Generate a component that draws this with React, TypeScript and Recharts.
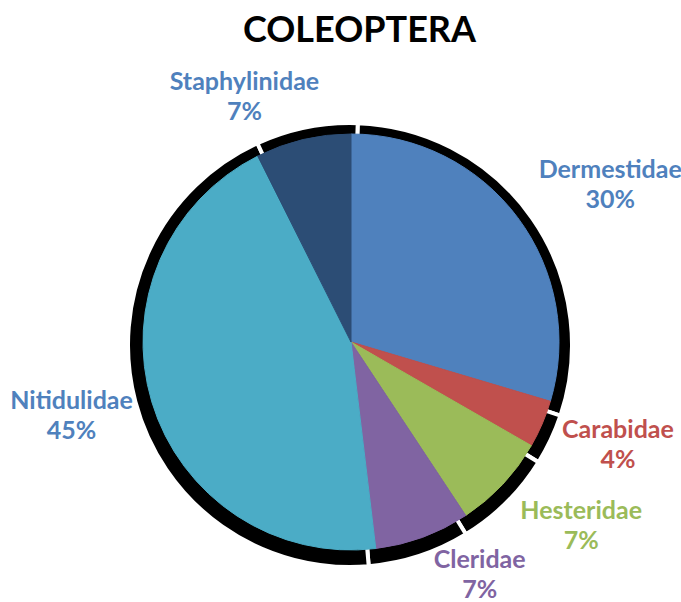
import { PieChart, Pie, Cell } from 'recharts';

const families = ['Dermestidae', 'Carabidae', 'Hesteridae', 'Cleridae', 'Nitidulidae', 'Staphylinidae'];
const shares = [29.6, 3.7, 7.4, 7.4, 44.5, 7.4];
const shareLabels = ['30%', '4%', '7%', '7%', '45%', '7%'];

const sliceColors = ['#4F81BD', '#C0504D', '#9BBB59', '#8064A2', '#4BACC6', '#2C4D75'];
const labelColors = ['#4F81BD', '#C0504D', '#9BBB59', '#8064A2', '#4F81BD', '#4F81BD'];
// label layout tweaks: angular nudge (deg) and distance of the anchor from centre
const labelNudge = [1.9, -0.3, -1.6, -7, 0, -6.6];
const labelDist = [250, 236, 248, 234, 226, 235];

const chartData = families.map((name, i) => ({ name, value: shares[i] }));

const RADIAN = Math.PI / 180;
const FONT = 'Lato, "Open Sans", sans-serif';
const LABEL_SIZE = 25;

const renderLabel = (props: any) => {
  const { cx, cy, midAngle, index } = props;
  // angle measured clockwise from 12 o'clock
  const theta = (90 - midAngle + labelNudge[index]) * RADIAN;
  const r = labelDist[index];
  const ax = cx + r * Math.sin(theta);
  const ay = cy - r * Math.cos(theta);
  const w = families[index].length * 0.52 * 23;
  const h = 54;
  const x = ax + (w / 2) * Math.sin(theta);
  const c = ay - (h / 2) * Math.cos(theta);
  return (
    <text
      x={x}
      y={c - 6}
      textAnchor="middle"
      fill={labelColors[index]}
      fontFamily={FONT}
      fontWeight={700}
      fontSize={LABEL_SIZE}
    >
      <tspan x={x} y={c - 6}>{families[index]}</tspan>
      <tspan x={x} y={c + 24}>{shareLabels[index]}</tspan>
    </text>
  );
};

const App = () => {
  return (
    <div style={{ position: 'absolute', left: 0, top: 0, background: '#fff' }}>
      <PieChart width={681} height={602} margin={{ top: 0, right: 0, bottom: 0, left: 0 }}>
        <text
          x={359.5}
          y={42}
          textAnchor="middle"
          fontFamily={FONT}
          fontWeight={700}
          fontSize={36}
          fill="#000"
        >
          COLEOPTERA
        </text>
        {/* black drop shadow behind the pie */}
        <Pie
          data={chartData}
          dataKey="value"
          cx={350}
          cy={345}
          outerRadius={222}
          startAngle={88}
          endAngle={-272}
          fill="#000"
          stroke="#fff"
          strokeWidth={4}
          isAnimationActive={false}
          label={false}
          labelLine={false}
        />
        <Pie
          data={chartData}
          dataKey="value"
          cx={351}
          cy={342}
          outerRadius={208}
          startAngle={90}
          endAngle={-270}
          isAnimationActive={false}
          label={renderLabel}
          labelLine={false}
        >
          {chartData.map((d, i) => (
            <Cell key={d.name} fill={sliceColors[i]} stroke={sliceColors[i]} />
          ))}
        </Pie>
      </PieChart>
    </div>
  );
};

export default App;
